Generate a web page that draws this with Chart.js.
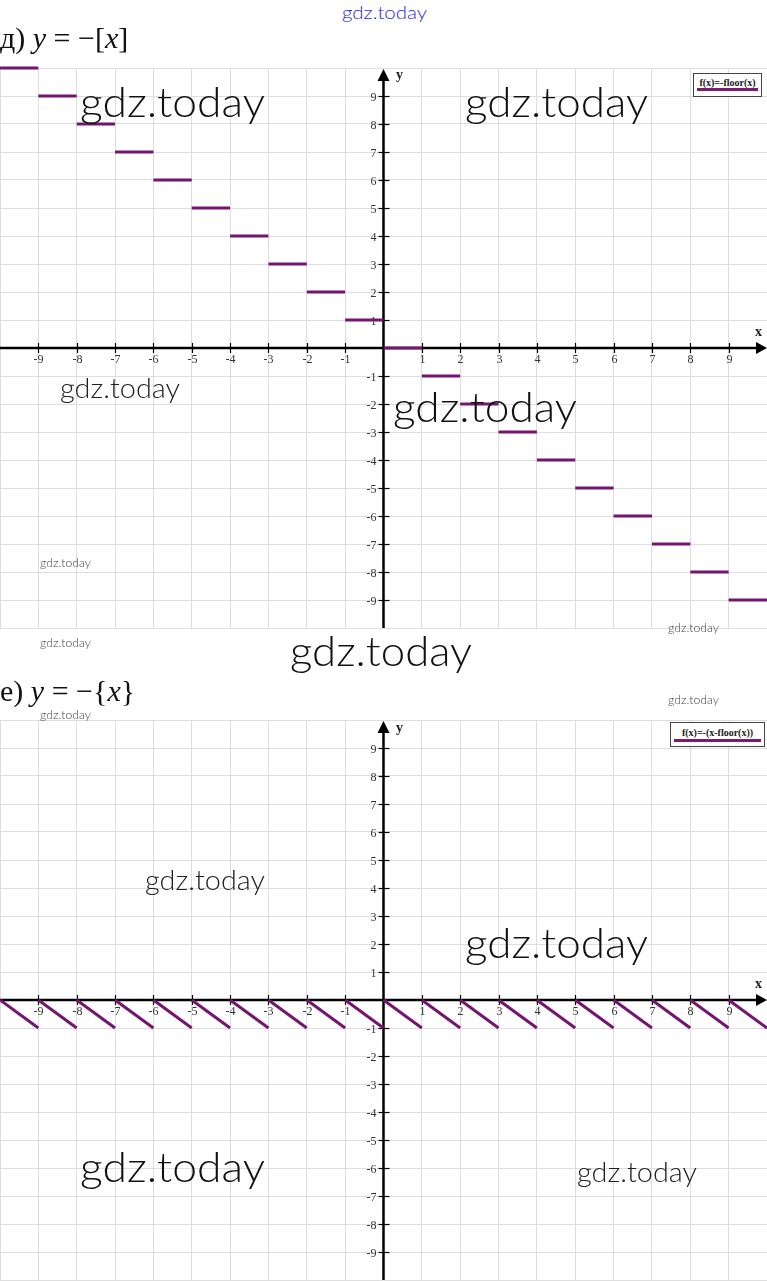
<!DOCTYPE html>
<html>
<head>
<meta charset="utf-8">
<script src="https://cdn.jsdelivr.net/npm/chart.js@4.4.1/dist/chart.umd.min.js"></script>
<style>
  html,body{margin:0;padding:0;background:#fff;}
  body{width:767px;height:1281px;position:relative;overflow:hidden;}
  canvas{position:absolute;}
  .title{position:absolute;left:0;font-family:"Liberation Serif","DejaVu Serif",serif;font-size:30px;line-height:1;color:#111;white-space:nowrap;}
  .title i{font-style:italic;}
  .legend{position:absolute;background:#fff;border:1px solid #444;box-sizing:border-box;font-family:"Liberation Serif",serif;font-weight:bold;font-size:10px;line-height:1;color:#222;text-align:center;white-space:nowrap;}
  .legend .bar{position:absolute;left:3px;right:3px;height:3px;background:#7a1a73;}
  .axlab{position:absolute;font-family:"Liberation Serif",serif;font-weight:bold;font-size:14px;line-height:1;color:#222;}
  .wm{position:absolute;font-family:Lato,"Open Sans",sans-serif;font-weight:300;line-height:1;white-space:nowrap;transform-origin:0 50%;}
</style>
</head>
<body>
<canvas id="c1" width="767" height="600" style="top:50px;left:0"></canvas>
<canvas id="c2" width="767" height="581" style="top:700px;left:0"></canvas>

<div class="title" style="top:23px">д) <i>y</i> = −[<i>x</i>]</div>
<div class="title" style="top:676px">е) <i>y</i> = −{<i>x</i>}</div>

<div class="legend" style="left:693px;top:73px;width:69px;height:24px;"><div style="margin-top:4px">f(x)=-floor(x)</div><div class="bar" style="top:14px"></div></div>
<div class="legend" style="left:670px;top:722px;width:95px;height:25px;"><div style="margin-top:5px">f(x)=-(x-floor(x))</div><div class="bar" style="top:16px"></div></div>

<div class="axlab" style="left:396px;top:68px">y</div>
<div class="axlab" style="left:755px;top:325px">x</div>
<div class="axlab" style="left:396px;top:721px">y</div>
<div class="axlab" style="left:755px;top:977px">x</div>

<div id="wms"></div>

<script>
// ---- data ----
// Chart д): y = -[x]  (one horizontal step per unit interval)
const stepStart = [-10,-9,-8,-7,-6,-5,-4,-3,-2,-1,0,1,2,3,4,5,6,7,8,9];
const stepEnd   = [-9,-8,-7,-6,-5,-4,-3,-2,-1,0,1,2,3,4,5,6,7,8,9,10];
const stepValue = [10,9,8,7,6,5,4,3,2,1,0,-1,-2,-3,-4,-5,-6,-7,-8,-9];

// Chart е): y = -{x}  (one falling segment per unit interval)
const sawStart  = [-10,-9,-8,-7,-6,-5,-4,-3,-2,-1,0,1,2,3,4,5,6,7,8,9];
const sawEnd    = [-9,-8,-7,-6,-5,-4,-3,-2,-1,0,1,2,3,4,5,6,7,8,9,10];
const sawFrom   = [0,0,0,0,0,0,0,0,0,0,0,0,0,0,0,0,0,0,0,0];
const sawTo     = [-1,-1,-1,-1,-1,-1,-1,-1,-1,-1,-1,-1,-1,-1,-1,-1,-1,-1,-1,-1];

// axis ranges / tick labels
const xRange = [-10, 10];
const yRange = [-10, 10];
const xTickLabels = ['-9','-8','-7','-6','-5','-4','-3','-2','-1','1','2','3','4','5','6','7','8','9'];
const yTickLabels = ['-9','-8','-7','-6','-5','-4','-3','-2','-1','1','2','3','4','5','6','7','8','9'];

const lineColor = '#741670';

function stepPoints(){
  const pts=[];
  for(let i=0;i<stepStart.length;i++){
    pts.push({x:stepStart[i],y:stepValue[i]});
    pts.push({x:stepEnd[i],y:stepValue[i]});
    pts.push({x:stepEnd[i],y:null});
  }
  return pts;
}
function sawPoints(){
  const pts=[];
  for(let i=0;i<sawStart.length;i++){
    pts.push({x:sawStart[i],y:sawFrom[i]});
    pts.push({x:sawEnd[i],y:sawTo[i]});
    pts.push({x:sawEnd[i],y:null});
  }
  return pts;
}

const axesPlugin = {
  id:'axesDecor',
  beforeDatasetsDraw(chart){
    const {ctx, chartArea, scales} = chart;
    const x0 = scales.x.getPixelForValue(0);
    const y0 = scales.y.getPixelForValue(0);
    ctx.save();
    // axis lines
    ctx.strokeStyle='#000'; ctx.lineWidth=2.5;
    ctx.beginPath(); ctx.moveTo(chartArea.left, y0); ctx.lineTo(chartArea.right-8, y0); ctx.stroke();
    ctx.beginPath(); ctx.moveTo(x0, chartArea.top+10); ctx.lineTo(x0, chartArea.bottom); ctx.stroke();
    ctx.fillStyle='#000';
    // y arrow
    const top = chartArea.top;
    ctx.beginPath();
    ctx.moveTo(x0, top+1); ctx.lineTo(x0-6, top+13); ctx.lineTo(x0+6, top+13); ctx.closePath(); ctx.fill();
    // x arrow
    const right = chartArea.right;
    ctx.beginPath();
    ctx.moveTo(right, y0); ctx.lineTo(right-11, y0-6); ctx.lineTo(right-11, y0+6); ctx.closePath(); ctx.fill();
    // tick marks and labels
    ctx.lineWidth=1.2;
    ctx.font='12px "Liberation Serif", serif';
    ctx.fillStyle='#333';
    ctx.textAlign='center'; ctx.textBaseline='middle';
    for(const lab of xTickLabels){
      const px = Math.round(scales.x.getPixelForValue(Number(lab)))+0.5;
      ctx.beginPath(); ctx.moveTo(px, y0-5); ctx.lineTo(px, y0+5); ctx.stroke();
      ctx.fillText(lab, px, y0+12);
    }
    ctx.textAlign='right';
    for(const lab of yTickLabels){
      const py = Math.round(scales.y.getPixelForValue(Number(lab)))+0.5;
      ctx.beginPath(); ctx.moveTo(x0-5, py); ctx.lineTo(x0+6, py); ctx.stroke();
      ctx.fillText(lab, x0-7, py+1);
    }
    ctx.restore();
  }
};

function makeChart(id, points, pad){
  return new Chart(document.getElementById(id), {
    type:'line',
    data:{datasets:[{data:points, borderColor:lineColor, borderWidth:3, pointRadius:0, spanGaps:false, clip:false, tension:0}]},
    options:{
      responsive:false, animation:false, devicePixelRatio:1,
      layout:{padding:pad},
      plugins:{legend:{display:false}, tooltip:{enabled:false}},
      scales:{
        x:{type:'linear', min:xRange[0], max:xRange[1], position:{y:0},
           grid:{color:'#dedede', lineWidth:1, drawTicks:false},
           border:{display:false},
           ticks:{display:false, stepSize:1, autoSkip:false}},
        y:{type:'linear', min:yRange[0], max:yRange[1], position:{x:0},
           grid:{color:'#dedede', lineWidth:1, drawTicks:false},
           border:{display:false},
           ticks:{display:false, stepSize:1, autoSkip:false}}
      }
    },
    plugins:[axesPlugin]
  });
}

const ch1 = makeChart('c1', stepPoints(), {top:18, bottom:22, left:0, right:0});
const ch2 = makeChart('c2', sawPoints(), {top:20, bottom:1, left:0, right:0});

// watermark texts
const wmText = 'gdz.today';
const wmLeft  = [342, 80, 465, 60, 393, 40, 40, 668, 290, 40, 668, 145, 465, 80, 577];
const wmRight = [427, 265, 648, 180, 577, 91, 91, 719, 472, 91, 719, 265, 648, 265, 697];
const wmMidY  = [12, 101, 101, 387, 406, 563, 643, 628, 650, 715, 700, 879, 942, 1166, 1171];
const wmSize  = [17, 42, 42, 27, 42, 12, 12, 12, 42, 12, 12, 27, 42, 42, 27];
const wmColor = ['#2a2ad8','#111','#111','#222','#111','#444','#444','#444','#111','#444','#444','#222','#111','#111','#222'];
const host = document.getElementById('wms');
for(let i=0;i<wmLeft.length;i++){
  const d=document.createElement('div');
  d.className='wm'; d.textContent=wmText;
  d.style.fontSize=wmSize[i]+'px'; d.style.color=wmColor[i];
  d.style.left=wmLeft[i]+'px'; d.style.top=(wmMidY[i]-wmSize[i]/2)+'px';
  host.appendChild(d);
  const w=d.getBoundingClientRect().width;
  d.style.transform='scaleX('+((wmRight[i]-wmLeft[i])/w)+')';
}
</script>
</body>
</html>
